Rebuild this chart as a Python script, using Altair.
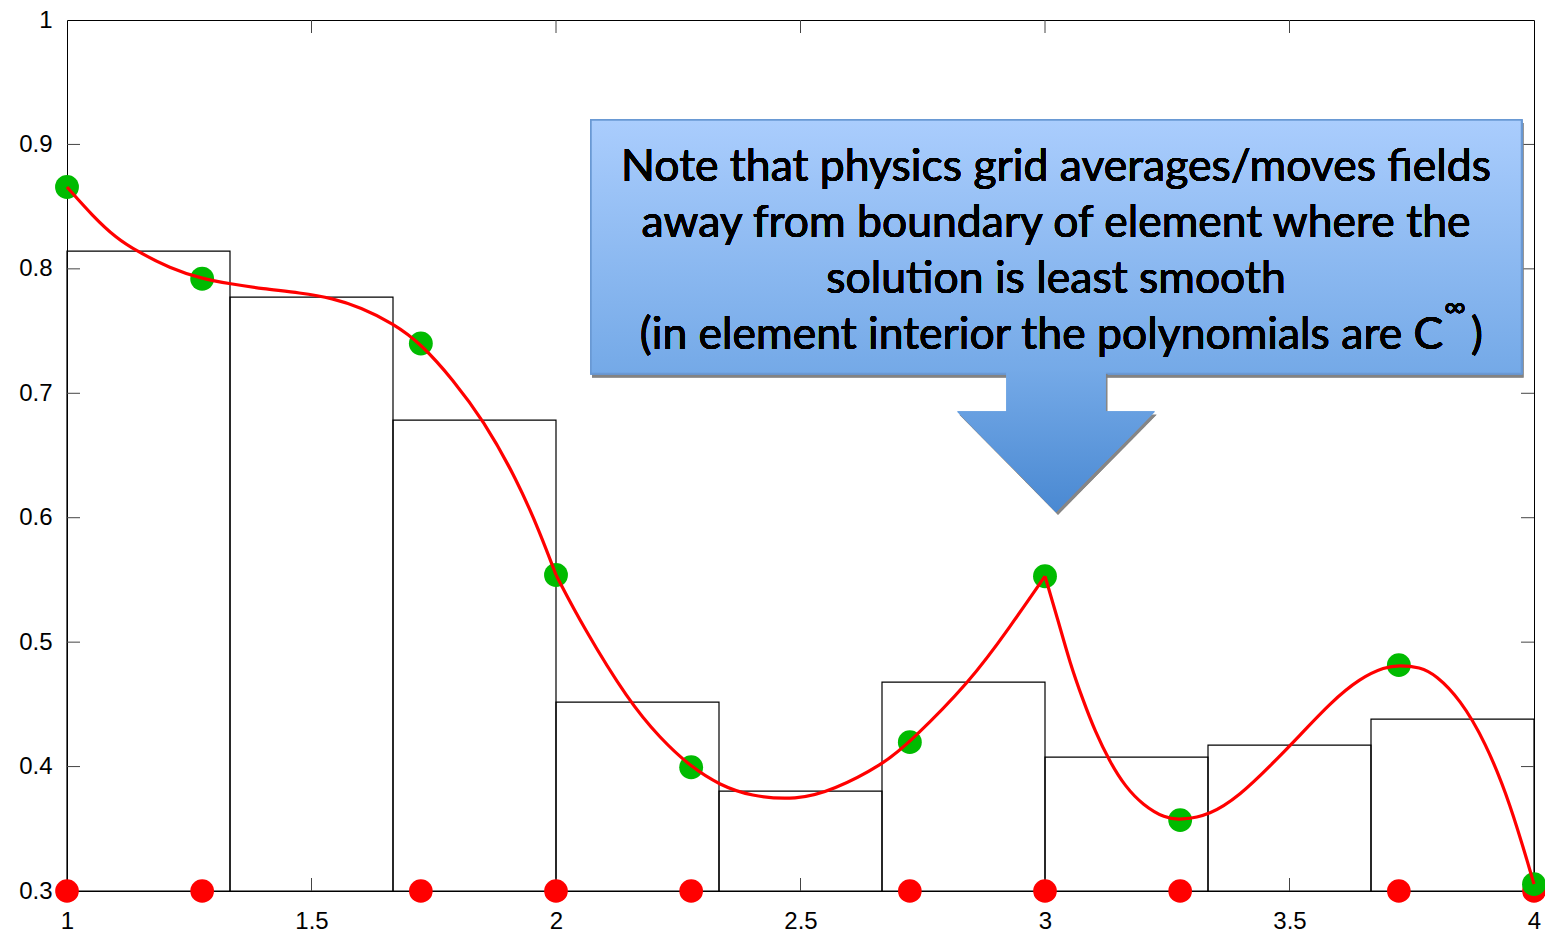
import altair as alt
import pandas as pd

# Gauss-Lobatto-Legendre nodes of the three spectral elements on [1, 4]
node_x = [1.0, 1.2764, 1.7236, 2.0, 2.2764, 2.7236, 3.0, 3.2764, 3.7236, 4.0]
node_y = [0.8658, 0.792, 0.740, 0.554, 0.3995, 0.4196, 0.553, 0.357, 0.4815, 0.3055]

# physics grid: three cells per element with their cell averages
cell_left = [1.0, 4 / 3, 5 / 3, 2.0, 7 / 3, 8 / 3, 3.0, 10 / 3, 11 / 3]
cell_right = [4 / 3, 5 / 3, 2.0, 7 / 3, 8 / 3, 3.0, 10 / 3, 11 / 3, 4.0]
cell_avg = [0.8143, 0.7773, 0.6785, 0.4518, 0.3802, 0.4678, 0.4076, 0.4172, 0.4381]

# polynomial solution inside each element
elem1_x = [1.0, 1.054, 1.100, 1.1425, 1.2106, 1.2764, 1.3333, 1.400, 1.4765, 1.544,
           1.600, 1.667, 1.7236, 1.790, 1.851, 1.9196, 1.9673, 2.0]
elem1_y = [0.8658, 0.8419, 0.8250, 0.8143, 0.8004, 0.7920, 0.7880, 0.7840, 0.7808, 0.7763,
           0.7690, 0.7562, 0.7400, 0.7106, 0.6785, 0.6310, 0.5880, 0.554]
elem2_x = [2.0, 2.0558, 2.1479, 2.2127, 2.2764, 2.3354, 2.3967, 2.4922, 2.5671, 2.6693,
           2.7236, 2.8466, 2.9284, 3.0]
elem2_y = [0.554, 0.5120, 0.4530, 0.4228, 0.3995, 0.3851, 0.3762, 0.3730, 0.3810, 0.4019,
           0.4196, 0.4681, 0.5123, 0.553]
elem3_x = [3.0, 3.0266, 3.0511, 3.0777, 3.1022, 3.1329, 3.1636, 3.2004, 3.2454, 3.2764,
           3.3374, 3.3988, 3.4601, 3.5215, 3.5828, 3.6442, 3.6953, 3.7236, 3.7669, 3.7996,
           3.8487, 3.8998, 3.9509, 4.0]
elem3_y = [0.553, 0.5177, 0.4831, 0.4534, 0.4285, 0.4035, 0.3842, 0.3690, 0.3585, 0.3570,
           0.3609, 0.3770, 0.4003, 0.4252, 0.4510, 0.4711, 0.4800, 0.4815, 0.4800, 0.4735,
           0.4542, 0.4204, 0.3714, 0.3055]

x_ticks = [1, 1.5, 2, 2.5, 3, 3.5, 4]
y_ticks = [0.3, 0.4, 0.5, 0.6, 0.7, 0.8, 0.9, 1.0]
y_floor = 0.3

note_lines = "Note that physics grid averages/moves fields\naway from boundary of element where the\nsolution is least smooth"
note_last = "(in element interior the polynomials are C"

W, H = 1467, 871

nodes = pd.DataFrame({"x": node_x, "y": node_y})
cells = pd.DataFrame({"x": cell_left, "x2": cell_right, "y": cell_avg})
curve = pd.concat([
    pd.DataFrame({"x": elem1_x, "y": elem1_y, "element": 1}),
    pd.DataFrame({"x": elem2_x, "y": elem2_y, "element": 2}),
    pd.DataFrame({"x": elem3_x, "y": elem3_y, "element": 3}),
])
xt = pd.DataFrame({"x": x_ticks[1:-1]})
yt = pd.DataFrame({"y": y_ticks[1:-1]})

xscale = alt.Scale(domain=[1, 4], nice=False, zero=False)
yscale = alt.Scale(domain=[0.3, 1], nice=False, zero=False)
label_font = "Liberation Sans"
xaxis = alt.Axis(values=x_ticks, format="~g", title=None, domain=False, ticks=False, tickSize=0,
                 grid=False, labelFlush=False, labelOverlap=False, labelPadding=18,
                 labelFont=label_font, labelFontSize=24, labelColor="black")
yaxis = alt.Axis(values=y_ticks, format="~g", title=None, domain=False, ticks=False, tickSize=0,
                 grid=False, labelFlush=False, labelOverlap=False, labelPadding=15,
                 labelFont=label_font, labelFontSize=24, labelColor="black")


def X(field="x"):
    return alt.X(field, type="quantitative", scale=xscale, axis=xaxis)


def Y(field="y"):
    return alt.Y(field, type="quantitative", scale=yscale, axis=yaxis)


# cell-average boxes
boxes = alt.Chart(cells).mark_rect(fillOpacity=0, stroke="black", strokeWidth=1.2).encode(
    x=X(), x2="x2", y=Y(), y2=alt.datum(y_floor)
)

# inward tick marks on all four sides
tick_style = dict(color="#444444", strokeWidth=1)
tick_bottom = alt.Chart(xt).mark_rule(**tick_style).encode(x=X(), y=alt.value(H), y2=alt.value(H - 13))
tick_top = alt.Chart(xt).mark_rule(**tick_style).encode(x=X(), y=alt.value(0), y2=alt.value(13))
tick_left = alt.Chart(yt).mark_rule(**tick_style).encode(y=Y(), x=alt.value(0), x2=alt.value(13))
tick_right = alt.Chart(yt).mark_rule(**tick_style).encode(y=Y(), x=alt.value(W), x2=alt.value(W - 13))

# node positions on the axis and node values
red_dots = alt.Chart(nodes).mark_circle(color="#ff0000", size=560, opacity=1).encode(
    x=X(), y=alt.datum(y_floor)
)
green_dots = alt.Chart(nodes).mark_circle(color="#00bb00", size=570, opacity=1).encode(
    x=X(), y=Y()
)
line = alt.Chart(curve).mark_line(color="#ff0000", strokeWidth=3.2, interpolate="basis").encode(
    x=X(), y=Y(), detail="element:N"
)

# callout box with arrow
box_fill = alt.Gradient(
    gradient="linear", x1=0, y1=0, x2=0, y2=1,
    stops=[alt.GradientStop(color="#aacdfd", offset=0), alt.GradientStop(color="#74a9e7", offset=1)],
)
arrow_fill = alt.Gradient(
    gradient="linear", x1=0, y1=0, x2=0, y2=1,
    stops=[alt.GradientStop(color="#74a9e7", offset=0), alt.GradientStop(color="#4a89d2", offset=1)],
)
bx0, bx1, by0, by1 = 524, 1454.5, 100, 353.5
box_shadow = alt.Chart(nodes).mark_rect(fill="#808080", opacity=0.3).encode(
    x=alt.value(bx0 + 1), x2=alt.value(bx1 + 2), y=alt.value(by0 + 3), y2=alt.value(by1 + 4)
)
note_box = alt.Chart(nodes).mark_rect(fill=box_fill, stroke="#6a99d4", strokeWidth=1.5).encode(
    x=alt.value(bx0), x2=alt.value(bx1), y=alt.value(by0), y2=alt.value(by1)
)
arrow_path = "M-0.5,-0.714L0.5,-0.714L0.5,-0.301L1,-0.301L0,0.714L-1,-0.301L-0.5,-0.301Z"
arrow_shadow = alt.Chart(nodes).mark_point(
    shape=arrow_path, filled=True, fill="#808080", opacity=0.25, size=197 ** 2, strokeWidth=0
).encode(x=alt.value(989 + 2), y=alt.value(421.35 + 3))
arrow = alt.Chart(nodes).mark_point(
    shape=arrow_path, filled=True, fill=arrow_fill, opacity=1, size=197 ** 2, strokeWidth=0
).encode(x=alt.value(989), y=alt.value(421.35))

text_style = dict(font="Lato", fontSize=44.5, color="#000000", baseline="alphabetic")
note_text = alt.Chart(nodes).mark_text(
    align="center", lineBreak="\n", lineHeight=56.2, text=note_lines, **text_style
).encode(x=alt.value(989), y=alt.value(160.7))
note_text4 = alt.Chart(nodes).mark_text(align="right", text=note_last, **text_style).encode(
    x=alt.value(1376.3), y=alt.value(329.3)
)
note_inf = alt.Chart(nodes).mark_text(
    align="left", text="\u221e", font="Lato", fontSize=30, color="#000000", baseline="alphabetic"
).encode(x=alt.value(1377), y=alt.value(297))
note_paren = alt.Chart(nodes).mark_text(align="left", text=")", **text_style).encode(
    x=alt.value(1404), y=alt.value(329.3)
)

chart = alt.layer(
    boxes, tick_bottom, tick_top, tick_left, tick_right, red_dots, green_dots, line,
    box_shadow, note_box, arrow_shadow, arrow, note_text, note_text4, note_inf, note_paren,
).properties(
    width=W, height=H, autosize="none",
    padding={"left": 67, "top": 20, "right": 11, "bottom": 43},
    background="white",
).configure_view(stroke="black", strokeWidth=1)

chart.save("out.html", embed_options={"renderer": "svg", "actions": False})
